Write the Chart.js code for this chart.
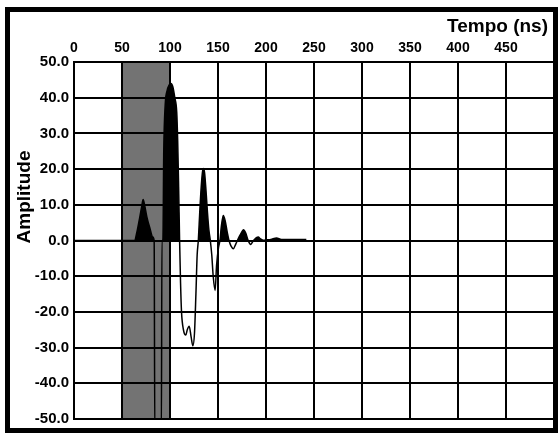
<!DOCTYPE html>
<html>
<head>
<meta charset="utf-8">
<script src="https://cdn.jsdelivr.net/npm/chart.js@4/dist/chart.umd.min.js"></script>
<style>
  html, body { margin: 0; padding: 0; background: #fff; }
  #frame {
    position: absolute; left: 5px; top: 7px; width: 553px; height: 426px;
    border: 5px solid #000; box-sizing: border-box;
  }
  #chart { position: absolute; left: 0; top: 0; }
</style>
</head>
<body>
<div id="frame"></div>
<canvas id="chart" width="559" height="433"></canvas>
<script>
// Tempo (ns) / amplitude
const timeNs = [0, 63, 66, 68.5, 70.5, 72, 73.5, 76, 79, 82, 83.5, 84.2, 91, 91.6, 92.6, 93.5, 95, 97, 99, 101,
    103, 105, 107, 108, 109, 110, 111, 112, 114, 116.5, 118, 120, 122, 123.8, 125.5, 127, 128.3, 129.5, 131, 132.5,
    134, 135, 136, 137.5, 139, 140.5, 142, 143.5, 145, 147, 148.5, 150.5, 152, 153.5, 155.5, 157.5, 159.5, 161.5, 163.5, 166,
    168.5, 171, 174, 176.5, 179, 181, 184, 187, 190, 192, 194, 197, 201, 205, 211, 216, 225, 242];
const amplitude = [0, 0, 3, 6.5, 9.5, 11.5, 10, 6.5, 3.5, 1, 0, -55, -55, 0, 0, 25, 38, 42, 43.5, 44,
    43, 40, 36, 28, 15, 0, -12, -20, -25, -26.5, -25, -24, -27, -29.5, -26, -15, -4, 0, 8, 15,
    19.5, 20.2, 19, 14, 8, 3, 0, -4, -10, -14, -7, -2, 0, 4, 7, 5.5, 2.5, 0, -1.5, -2.3,
    -1, 0.5, 2, 3, 2, 0.3, -1.1, 0, 0.8, 1, 0.5, 0.1, 0.2, 0.3, 0.7, 0.3, 0.3, 0.3];

// shaded time window
const bandTime = [50, 100];
const bandTop = 50;
const bandBottom = -50;

const xTickLabels = ['0', '50', '100', '150', '200', '250', '300', '350', '400', '450'];
const yTickLabels = ['-50.0', '-40.0', '-30.0', '-20.0', '-10.0', '0.0', '10.0', '20.0', '30.0', '40.0', '50.0'];

const font = "'Liberation Sans', Arial, sans-serif";

const titles = {
    id: 'titles',
    afterDraw(chart) {
        const ctx = chart.ctx;
        ctx.save();
        ctx.fillStyle = '#000';
        ctx.font = 'bold 19px ' + font;
        ctx.textAlign = 'right';
        ctx.fillText('Tempo (ns)', 548, 32);
        ctx.translate(30, 197);
        ctx.rotate(-Math.PI / 2);
        ctx.textAlign = 'center';
        ctx.fillText('Amplitude', 0, 0);
        ctx.restore();
    }
};

new Chart(document.getElementById('chart'), {
    type: 'line',
    data: {
        datasets: [{
            data: timeNs.map((t, i) => ({ x: t, y: amplitude[i] })),
            borderColor: '#000',
            borderWidth: 1.5,
            pointRadius: 0,
            cubicInterpolationMode: 'monotone',
            fill: { target: { value: 0 }, above: '#000', below: 'rgba(0,0,0,0)' },
            order: 0
        }, {
            data: bandTime.map(t => ({ x: t, y: bandTop })),
            borderWidth: 0,
            pointRadius: 0,
            backgroundColor: '#737373',
            fill: { value: bandBottom },
            order: 1
        }]
    },
    options: {
        responsive: false,
        animation: false,
        layout: { padding: { left: 0, top: 0, right: 5, bottom: 11 } },
        plugins: { legend: { display: false }, tooltip: { enabled: false } },
        scales: {
            x: {
                type: 'linear',
                position: 'top',
                min: 0,
                max: 500,
                afterFit: s => { s.height = 62; },
                ticks: {
                    stepSize: 50,
                    autoSkip: false,
                    maxRotation: 0,
                    padding: 5,
                    color: '#000',
                    font: { family: font, size: 14, weight: 'bold' },
                    callback: (v, i) => xTickLabels[i] || ''
                },
                grid: {
                    z: 1,
                    drawTicks: false,
                    lineWidth: 2,
                    color: c => c.tick && c.tick.value === 500 ? 'rgba(0,0,0,0)' : '#000'
                },
                border: { z: 1, color: '#000', width: 2 }
            },
            y: {
                min: -50,
                max: 50,
                afterFit: s => { s.width = 74; },
                ticks: {
                    stepSize: 10,
                    padding: 5,
                    color: '#000',
                    font: { family: font, size: 15, weight: 'bold' },
                    callback: (v, i) => yTickLabels[i]
                },
                grid: { z: 1, drawTicks: false, lineWidth: 2, color: '#000' },
                border: { z: 1, color: '#000', width: 2 }
            }
        }
    },
    plugins: [titles]
});
</script>
</body>
</html>
